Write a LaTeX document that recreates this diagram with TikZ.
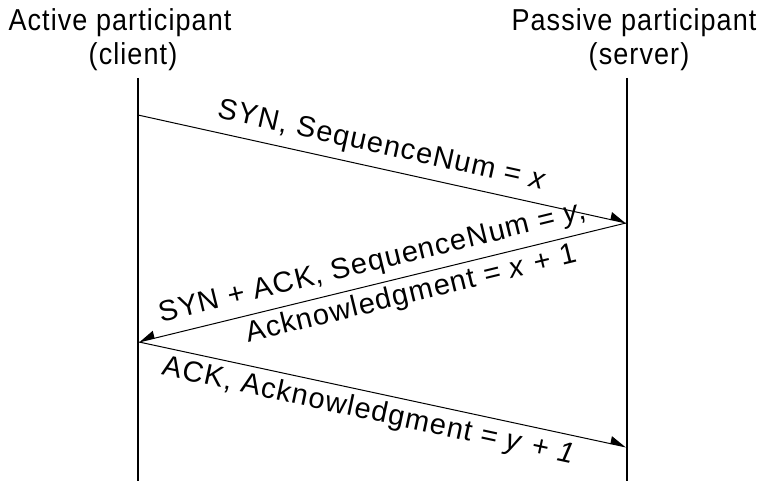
\documentclass[tikz,border=0pt]{standalone}
\usepackage{fontspec}
\setmainfont{Liberation Sans}
\newfontfamily\headfont[LetterSpace=4]{Liberation Sans}
\newfontfamily\lblfont[LetterSpace=4]{Liberation Sans}
\usetikzlibrary{arrows.meta}
\newcommand{\tallhead}[1]{\scalebox{1}[1.12]{#1}}
\begin{document}
\begin{tikzpicture}[x=1pt,y=-1pt,
  lifeline/.style={line width=1.4pt},
  msg/.style={line width=1pt},
  tipL/.style={-{Triangle[harpoon,length=15pt,width=15pt]}},
  tipR/.style={-{Triangle[harpoon,swap,length=15pt,width=15pt]}},
  head/.style={font=\headfont\fontsize{27}{30}\selectfont, inner sep=0pt},
  lbl/.style={font=\lblfont\fontsize{29}{32}\selectfont, sloped}]
\useasboundingbox (0,0) rectangle (771,481);
% headers
\node[head, anchor=base] (actA) at (120,31) {\tallhead{Active participant}};
\node[head, anchor=base] (actB) at (133,65) {\tallhead{(client)}};
\node[head, anchor=base] (pasA) at (634,31) {\tallhead{Passive participant}};
\node[head, anchor=base] (pasB) at (639,65) {\tallhead{(server)}};
% lifelines
\coordinate (cTop) at (138,78);
\coordinate (cBot) at (138,481);
\coordinate (sTop) at (627,78);
\coordinate (sBot) at (627,481);
\draw[lifeline] (cTop) -- (cBot);
\draw[lifeline] (sTop) -- (sBot);
% message points
\coordinate (c1) at (138,115);
\coordinate (s1) at (626,223);
\coordinate (c2) at (139,342);
\coordinate (s3) at (626,447);
\draw[msg, tipL] (c1) -- (s1)
  node[lbl, pos=0.49, above, inner sep=8pt] (m1) {SYN, SequenceNum = \textit{x}};
\draw[msg, tipR] (s1) -- (c2)
  node[lbl, pos=0.51, above, inner sep=7pt] (m2a) {SYN + ACK, SequenceNum = \textit{y},}
  node[lbl, pos=0.45, below, inner sep=5pt] (m2b) {Acknowledgment = \textit{x} + 1};
\draw[msg, tipL] (c2) -- (s3)
  node[lbl, pos=0.48, below, inner sep=6pt] (m3) {ACK, Acknowledgment = \textit{y} + \textit{1}};
\end{tikzpicture}
\end{document}
